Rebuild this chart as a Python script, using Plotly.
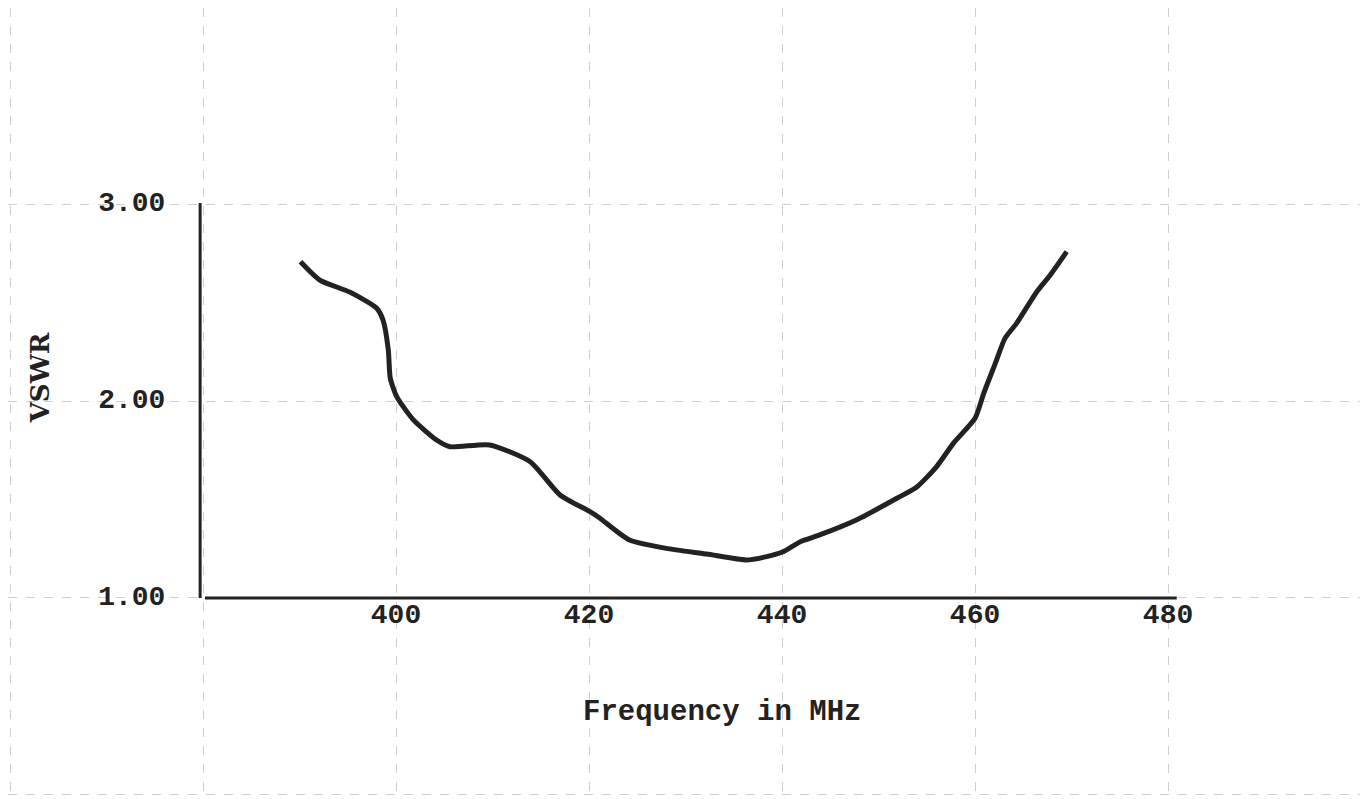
import plotly.graph_objects as go

# --- data ---
freq_mhz = [390.1, 392.1, 395.2, 398.0, 398.65, 399.2, 399.4, 400.07, 401.8, 404.2,
            405.6, 409.7, 413.9, 417.0, 420.1, 421.1, 424.2, 428.0, 432.2, 436.3,
            438.4, 440.1, 441.9, 443.9, 447.7, 451.9, 454.0, 456.0, 457.75, 460.0,
            460.9, 462.1, 463.1, 464.3, 466.4, 467.8, 469.5]
vswr = [2.707, 2.614, 2.553, 2.471, 2.411, 2.259, 2.117, 2.022, 1.904, 1.802,
        1.768, 1.777, 1.692, 1.523, 1.438, 1.406, 1.294, 1.252, 1.223, 1.193,
        1.210, 1.235, 1.286, 1.320, 1.396, 1.506, 1.565, 1.666, 1.785, 1.912,
        2.039, 2.191, 2.318, 2.394, 2.555, 2.640, 2.758]

x_tick_vals = [400, 420, 440, 460, 480]
x_tick_text = ["400", "420", "440", "460", "480"]
y_tick_vals = [1.0, 2.0, 3.0]
y_tick_text = ["1.00", "2.00", "3.00"]
x_title = "Frequency in MHz"
y_title = "VSWR"

# axis extents of the drawn frame
x_axis_start, x_axis_end = 380.2, 480.9
y_axis_bottom, y_axis_top = 1.0, 3.005
y_axis_x = 379.7

INK = "#222222"
FONT = "Liberation Mono"

fig = go.Figure()

# drawn axes
fig.add_trace(go.Scatter(x=[x_axis_start, x_axis_end], y=[y_axis_bottom, y_axis_bottom],
                         mode="lines", line=dict(color=INK, width=3), hoverinfo="skip"))
fig.add_trace(go.Scatter(x=[y_axis_x, y_axis_x], y=[y_axis_bottom, y_axis_top],
                         mode="lines", line=dict(color=INK, width=3), hoverinfo="skip"))

# the VSWR curve
fig.add_trace(go.Scatter(x=freq_mhz, y=vswr, mode="lines",
                         line=dict(color=INK, width=5, shape="spline", smoothing=0.6),
                         hoverinfo="x+y"))

# x tick labels
fig.add_trace(go.Scatter(x=x_tick_vals, y=[0.91] * len(x_tick_vals), mode="text",
                         text=x_tick_text, textposition="middle center",
                         textfont=dict(family=FONT, size=28, color=INK, weight="bold"),
                         hoverinfo="skip"))
# y tick labels
fig.add_trace(go.Scatter(x=[376.1] * len(y_tick_vals), y=y_tick_vals, mode="text",
                         text=y_tick_text, textposition="middle left",
                         textfont=dict(family=FONT, size=28, color=INK, weight="bold"),
                         hoverinfo="skip"))

fig.add_annotation(x=433.8, y=0.42, text=x_title, showarrow=False,
                   font=dict(family=FONT, size=29, color=INK, weight="bold"))
fig.add_annotation(x=363.1, y=2.12, text=y_title, showarrow=False, textangle=-90,
                   font=dict(family="DejaVu Serif", size=26, color=INK, weight="bold"))

grid = dict(showgrid=True, gridcolor="#cfcfcf", griddash="dash", gridwidth=1,
            zeroline=False, showticklabels=False, ticks="", showline=False)

# ranges compensate for the page's 8px body margin
fig.update_layout(
    width=1368, height=799,
    margin=dict(l=0, r=0, t=0, b=0),
    paper_bgcolor="white", plot_bgcolor="white",
    showlegend=False,
    xaxis=dict(range=[359.79, 501.55], tick0=360, dtick=20, **grid),
    yaxis=dict(range=[-0.061, 3.995], tick0=0, dtick=1, **grid),
)

fig.write_html("out.html")
